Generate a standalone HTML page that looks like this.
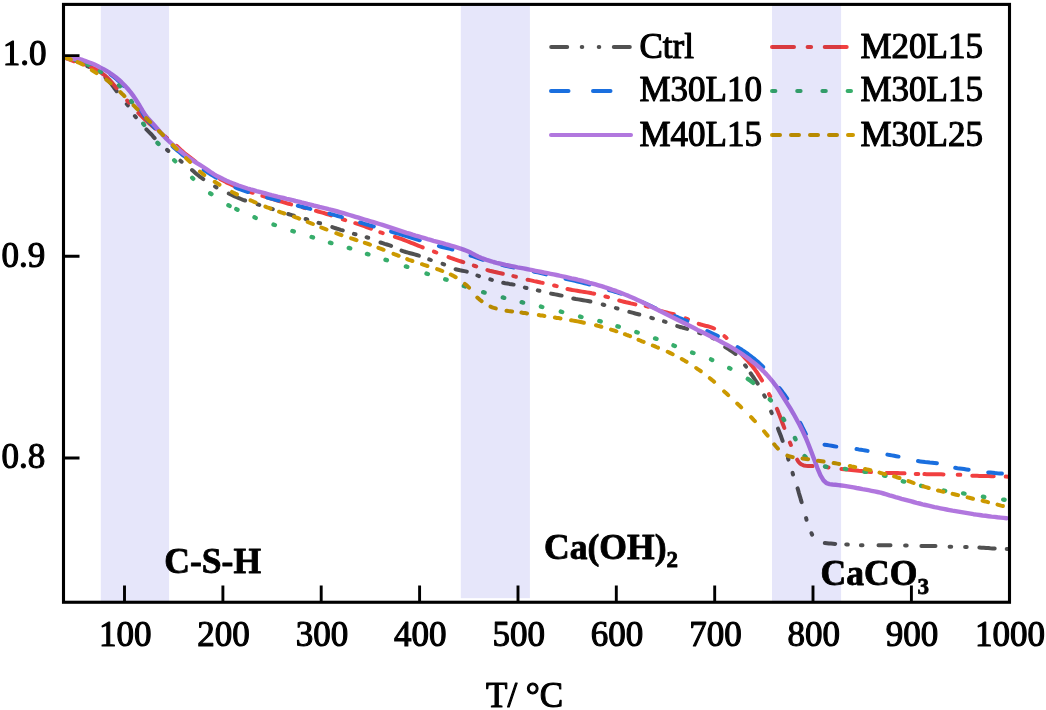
<!DOCTYPE html>
<html><head><meta charset="utf-8">
<style>
html,body{margin:0;padding:0;background:#fff;}
body{width:1046px;height:710px;overflow:hidden;position:relative;font-family:"Liberation Serif",serif;}
svg{position:absolute;left:0;top:0;}
text{font-family:"Liberation Serif",serif;fill:#000;}
</style></head><body>
<svg width="1046" height="710" viewBox="0 0 1046 710">
<rect width="1046" height="710" fill="#fff"/>
<!-- CURVES -->
<g id="curves" fill="none" stroke-width="4.0" stroke-linecap="round" stroke-linejoin="round">
<path id="c-gray" d="M66.5 57.9L68.8 58.6L71.2 59.2L73.6 60.0L75.9 60.8L78.2 61.8M87.3 66.1L88.7 66.8M95.3 70.1L96.7 70.9M105.5 77.5L107.1 79.0L108.6 80.7L110.0 82.4L111.4 84.1L112.7 85.9L114.0 87.7L115.4 89.5L116.7 91.2M126.8 104.0L127.8 105.3M134.9 116.0L135.9 117.2M146.4 129.4L148.1 131.1L149.8 132.8L151.5 134.5L153.0 136.3L154.6 138.1M167.1 149.9L168.3 150.9M180.4 160.7L181.6 161.7M192.0 170.0L193.8 171.6L195.6 173.2L197.5 174.8L199.4 176.3L201.3 177.7L203.3 179.1M215.1 186.6L216.5 187.4M228.8 193.5L230.8 194.5L232.8 195.4L234.8 196.4L236.8 197.3L238.9 198.2L240.9 199.0L243.0 199.8L245.1 200.5M257.7 204.4L259.3 204.9M271.2 208.7L272.8 209.2M288.2 214.0L290.1 214.6L292.1 215.2L294.0 215.7M305.6 219.0L307.2 219.5M318.5 222.9L320.1 223.3M332.3 227.1L334.4 227.8L336.5 228.5L338.6 229.1L340.7 229.8L342.8 230.4M353.9 233.9L355.5 234.3M366.6 237.3L368.2 237.7M380.5 242.5L382.6 243.2L384.7 243.9L386.9 244.5L389.0 245.2L391.1 245.9M401.5 250.6L403.7 251.3L405.8 252.0L408.0 252.6L410.2 253.2L412.4 253.8L414.6 254.4L416.7 255.0L418.9 255.6M429.2 259.4L430.8 260.0M442.6 263.8L444.1 264.4M455.6 269.3L457.8 269.8L460.1 270.3L462.3 270.7L464.5 271.1L466.8 271.6M477.4 275.5L479.0 276.1M490.3 279.4L491.9 279.9M503.2 282.8L505.2 283.2L507.3 283.5L509.4 283.9L511.5 284.2L513.6 284.6M524.9 287.6L526.5 288.0M537.8 290.4L539.4 290.8M551.1 293.6L553.2 294.0L555.3 294.4L557.4 294.8L559.5 295.2L561.6 295.6M573.3 298.5L575.7 299.0L578.2 299.4L580.6 299.8L583.1 300.2L585.5 300.6L588.0 301.0L590.4 301.5M602.7 304.5L604.3 305.0M615.9 308.1L617.5 308.5M629.3 311.9L631.3 312.4L633.3 312.9L635.3 313.5L637.3 314.0L639.3 314.5M651.3 317.8L652.9 318.3M664.0 321.4L665.6 321.9M677.2 326.1L679.2 326.7L681.2 327.2L683.2 327.8L685.2 328.3L687.2 328.9M699.2 332.9L700.8 333.4M712.3 337.7L713.7 338.4M725.2 347.0L727.3 348.3L729.4 349.7L731.5 351.0L733.5 352.4L735.5 354.0M745.1 365.3L746.1 366.6M750.7 373.3L752.1 375.4L753.5 377.4L754.9 379.5L756.3 381.6L757.7 383.7M764.2 395.3L764.9 396.7M771.1 411.6L771.7 413.1M778.0 428.6L778.8 430.7L779.6 432.7L780.4 434.7L781.2 436.8L781.9 438.8L782.6 440.9M788.0 458.0L788.4 459.6M792.6 472.9L793.0 474.5M797.6 488.4L798.3 490.7L798.9 493.0L799.6 495.3L800.3 497.6L800.9 499.9L801.6 502.2M806.1 518.1L806.5 519.7M811.5 533.2L812.1 534.6M824.8 543.1L826.9 543.3L829.0 543.5L831.0 543.6L833.1 543.7L835.2 543.9M846.2 544.5L847.8 544.6M860.9 545.2L862.5 545.2M878.5 545.2L880.9 545.2L883.3 545.2L885.7 545.2L888.1 545.2L890.5 545.2M905.1 545.6L906.7 545.6M921.4 545.9L923.8 545.9L926.1 545.9L928.5 545.9L930.8 545.9L933.2 545.9L935.5 545.9M949.6 546.8L951.2 546.8M965.1 547.0L966.7 547.0M979.4 547.5L981.6 547.7L983.8 547.8L986.0 548.0L988.1 548.1L990.3 548.3L992.5 548.4L994.7 548.5M1006.7 549.0L1008.0 549.0" stroke="#515151"/>
<path id="c-red" d="M66.4 58.3L68.3 59.0L70.2 59.8L72.2 60.5L74.1 61.3M81.8 63.7L83.0 64.1L84.2 64.5M90.8 67.0L93.0 68.0L95.2 69.1L97.3 70.3L99.3 71.6L101.3 72.9L103.3 74.3L105.2 75.8L107.0 77.4L108.7 79.1L110.3 80.9L111.9 82.7L113.5 84.5L115.1 86.3L116.7 88.1M127.2 100.6L128.1 101.6L129.0 102.6M138.4 112.9L140.0 114.6L141.6 116.2L143.3 117.9L145.0 119.5L146.7 121.0L148.4 122.6L150.2 124.1L151.9 125.7L153.7 127.2L155.5 128.6M165.0 136.4L166.0 137.2L167.0 138.0M176.5 145.8L178.3 147.5L180.1 149.2L181.9 150.9L183.8 152.5L185.7 154.0L187.7 155.5L189.6 157.0L191.6 158.6L193.5 160.1L195.4 161.6M207.0 170.5L208.0 171.3L209.1 172.0M220.0 178.9L222.0 180.0L224.0 181.0L226.0 182.1L228.0 183.1L230.0 184.0L232.0 185.0L234.0 185.9L236.1 186.8L238.1 187.7M250.3 192.0L251.5 192.4L252.7 192.8M262.4 195.9L264.8 196.6L267.2 197.4L269.5 198.1L271.9 198.9L274.3 199.6L276.7 200.3L279.1 201.0L281.5 201.7L283.9 202.4L286.3 203.1L288.7 203.8L291.1 204.4M302.7 207.4L304.0 207.8L305.3 208.1M316.0 210.9L318.2 211.5L320.4 212.1L322.5 212.7L324.7 213.3L326.8 214.0L329.0 214.7L331.1 215.4M342.8 219.4L344.0 219.7L345.2 220.1M355.3 223.2L357.6 223.9L359.9 224.6L362.1 225.4L364.4 226.2L366.6 227.0L368.8 227.8L371.0 228.7M380.3 232.3L381.5 232.7L382.7 233.1M394.9 236.8L397.3 237.6L399.6 238.4L402.0 239.2L404.3 240.1L406.6 241.0L408.9 241.9L411.2 242.8L413.5 243.7L415.8 244.7L418.1 245.6L420.4 246.5L422.7 247.4M433.9 251.6L435.1 252.0L436.3 252.5M448.5 257.1L450.6 257.9L452.7 258.6L454.8 259.4L456.9 260.1L459.1 260.8L461.2 261.5L463.3 262.2M473.8 265.6L475.0 266.0L476.2 266.4M487.4 270.1L489.6 270.7L491.8 271.2L494.0 271.8L496.2 272.3L498.4 272.8L500.6 273.2L502.8 273.7M513.3 276.1L514.6 276.4L515.9 276.7M527.6 279.7L529.8 280.1L532.0 280.6L534.1 281.1L536.3 281.5L538.4 282.0L540.6 282.5L542.7 282.9M554.1 285.5L555.4 285.8L556.7 286.1M567.5 289.0L569.9 289.5L572.3 290.0L574.7 290.4L577.2 290.8L579.6 291.2L582.1 291.6L584.5 292.0L587.0 292.4L589.4 292.8L591.8 293.3L594.2 293.7M605.4 296.5L606.7 296.8L608.0 297.2M619.2 300.5L621.5 301.1L623.8 301.7L626.1 302.3L628.5 302.8L630.8 303.4L633.1 303.9L635.4 304.4M645.7 306.1L647.0 306.4L648.3 306.7M659.4 310.6L661.8 311.3L664.2 311.9L666.6 312.5L669.0 313.1L671.4 313.7L673.8 314.3M685.6 318.4L686.8 318.8L688.0 319.3M698.7 323.8L700.9 324.5L703.1 325.1L705.3 325.7L707.6 326.2L709.8 326.9L712.0 327.6L714.1 328.5M724.5 336.2L725.5 337.1L726.5 338.0M736.4 348.5L738.0 350.3L739.6 352.0L741.3 353.8L742.9 355.6L744.5 357.4L746.1 359.2L747.8 361.0L749.4 362.8L751.0 364.6L752.6 366.5L754.1 368.4L755.5 370.4L756.9 372.3L758.2 374.4L759.5 376.4L760.8 378.5L762.0 380.6M769.0 394.1L769.6 395.3L770.2 396.4M776.9 408.9L777.8 410.9L778.6 413.0L779.5 415.1L780.3 417.3L781.1 419.4L781.9 421.5L782.7 423.7L783.5 425.8L784.3 427.9M789.9 442.6L790.4 443.8L790.9 445.0M797.2 459.7L798.3 461.6L799.8 463.3L801.6 464.5L803.7 465.4L805.9 465.7L808.1 465.9L810.4 466.0L812.6 466.1M825.9 467.1L827.2 467.2L828.5 467.4M841.5 469.0L843.9 469.2L846.4 469.5L848.9 469.7L851.3 469.9L853.8 470.2L856.3 470.4L858.7 470.7L861.2 470.9L863.6 471.2L866.1 471.5L868.5 471.8L871.0 472.0M886.5 472.9L888.7 473.0L891.0 473.0L893.2 473.1L895.5 473.1L897.8 473.1L900.0 473.2L902.3 473.2L904.5 473.3M915.7 474.0L917.0 474.0L918.3 474.0M924.4 474.1L926.8 474.2L929.2 474.2L931.6 474.2L934.0 474.3L936.3 474.3L938.7 474.3L941.1 474.3L943.5 474.4M957.7 474.7L959.0 474.7L960.3 474.8M972.3 475.7L974.7 475.8L977.1 475.8L979.4 475.9L981.8 476.0L984.2 476.0L986.6 476.1L988.9 476.1L991.3 476.2L993.7 476.2M1005.7 476.6L1008.0 476.7" stroke="#F14040"/>
<path id="c-blue" d="M66.5 57.6L66.5 57.6M79.9 59.9L82.0 60.5L84.1 61.1L86.1 61.8L88.1 62.5L90.2 63.3L92.2 64.1M110.6 74.5L112.6 76.0L114.6 77.5L116.5 79.0L118.3 80.7L120.2 82.3L121.9 84.0L123.7 85.8M141.0 110.2L142.3 112.3L143.5 114.5L144.9 116.5L146.4 118.5L147.9 120.5L149.6 122.3L151.3 124.1L153.0 125.9L154.7 127.8M172.5 146.3L174.3 147.9L176.1 149.4L177.9 151.0L179.8 152.5L181.6 154.1L183.5 155.6L185.4 157.0M203.7 169.8L205.5 171.0L207.3 172.2L209.1 173.3L211.0 174.5L212.8 175.6L214.7 176.7L216.6 177.8M235.4 187.4L237.5 188.3L239.6 189.1L241.7 189.8L243.8 190.6L245.9 191.3L248.0 192.0M267.1 197.5L269.4 198.1L271.7 198.7L274.1 199.4L276.4 200.0L278.7 200.6M297.8 205.7L299.9 206.2L302.0 206.7L304.0 207.3L306.1 207.8L308.2 208.3L310.3 208.9M329.4 213.7L331.5 214.3L333.6 214.8L335.7 215.4L337.7 216.0L339.8 216.5L341.9 217.1M360.1 222.5L362.4 223.2L364.7 223.9L366.9 224.5L369.2 225.2L371.5 225.8L373.8 226.5M391.1 231.5L393.5 232.3L395.9 233.0L398.3 233.7L400.7 234.4L403.1 235.2L405.5 235.9L407.9 236.6L410.2 237.4L412.6 238.1L415.0 238.8L417.4 239.6L419.8 240.3M438.9 246.1L441.2 246.7L443.4 247.3L445.7 247.8L447.9 248.4L450.1 248.9L452.4 249.5M470.6 255.5L472.7 256.2L474.8 256.9L476.8 257.7L478.9 258.4L481.0 259.1L483.1 259.8M501.9 264.9L504.4 265.5L506.8 266.1L509.2 266.6L511.6 267.1L514.0 267.5M533.7 271.5L535.7 272.0L537.8 272.4L539.9 272.9L541.9 273.4L544.0 273.9L546.1 274.4M565.5 278.7L567.9 279.3L570.3 279.8L572.7 280.3L575.1 280.9L577.5 281.5L579.9 282.0L582.3 282.6L584.7 283.3L587.1 283.9L589.5 284.5M608.9 290.0L611.0 290.6L613.0 291.2L615.0 291.8L617.1 292.4L619.1 293.0L621.1 293.7M642.8 302.3L645.0 303.3L647.1 304.3L649.2 305.3L651.4 306.4L653.5 307.4L655.7 308.3M674.9 316.1L676.9 316.9L679.0 317.8L681.1 318.6L683.2 319.5L685.2 320.3L687.3 321.2M707.2 331.0L709.3 332.0L711.5 333.0L713.6 334.0L715.8 335.1L717.9 336.1M737.6 347.1L739.7 348.5L741.8 349.8L743.9 351.2L746.0 352.6L748.0 354.0L750.0 355.5L752.0 357.1L754.0 358.6L755.9 360.2L757.8 361.8L759.6 363.5L761.4 365.2L763.2 367.0M779.4 388.1L780.8 389.8L782.1 391.5L783.4 393.3L784.7 395.0L786.0 396.8L787.2 398.6M800.2 422.9L801.2 424.8L802.1 426.6L803.0 428.5L804.0 430.4L804.9 432.3L805.9 434.1M824.5 444.7L826.9 445.0L829.2 445.4L831.6 445.8L834.0 446.2L836.3 446.6M856.5 449.0L858.7 449.4L860.9 449.7L863.2 450.1L865.4 450.5L867.6 450.9M887.4 454.6L889.6 455.0L891.8 455.4L894.1 455.8L896.3 456.2L898.5 456.6M918.0 461.1L920.3 461.4L922.7 461.7L925.1 462.0L927.5 462.2L929.8 462.5L932.2 462.7L934.6 463.0L936.9 463.3M955.2 467.8L957.4 468.2L959.6 468.5L961.9 468.8L964.1 469.1L966.4 469.4L968.6 469.7M988.2 472.4L990.5 472.6L992.8 472.8L995.0 473.1L997.3 473.3L999.6 473.4L1001.9 473.6" stroke="#1A6FDF"/>
<path id="c-green" d="M75.3 59.8L76.7 60.2M87.4 64.2L88.6 64.8M99.8 71.2L101.0 72.0M119.0 85.3L120.0 86.3M131.2 101.0L132.0 102.2M143.3 123.7L144.1 124.9M157.5 142.9L158.5 143.9M174.2 160.3L175.2 161.3M192.2 177.8L193.2 178.8M210.2 193.3L211.4 194.1M228.4 205.3L229.6 205.9M236.3 209.1L237.5 209.7M254.5 217.3L255.7 217.9M273.5 224.6L274.9 225.0M292.4 231.0L293.8 231.4M311.6 237.0L313.0 237.4M330.0 242.7L331.4 243.1M348.8 247.9L350.2 248.3M367.0 253.9L368.4 254.3M385.5 259.8L386.9 260.2M405.9 266.4L407.3 266.8M426.5 273.6L427.9 274.0M445.2 279.3L446.6 279.7M463.8 286.0L465.2 286.4M483.2 292.2L484.6 292.6M502.8 297.4L504.2 297.8M521.7 302.2L523.1 302.6M540.9 306.6L542.3 307.0M560.8 311.6L562.2 312.0M580.1 316.6L581.5 317.0M599.3 321.0L600.7 321.4M617.4 326.3L618.8 326.7M636.3 332.1L637.7 332.5M655.1 338.4L656.5 338.8M673.5 345.4L674.9 346.0M692.1 352.6L693.5 353.0M711.0 359.4L712.2 360.0M729.2 368.0L730.4 368.6M747.8 378.9L749.6 380.1L751.4 381.5L753.1 382.8M769.8 399.4L770.8 400.4M783.3 418.8L784.1 420.0M794.9 438.0L795.5 439.2M804.6 456.1L805.6 457.1M825.0 466.5L826.4 466.7M844.8 468.9L846.2 469.1M864.5 471.7L865.9 471.9M884.1 475.5L885.5 475.8M902.8 481.3L904.2 481.6M921.1 485.8L922.5 486.1M943.8 490.6L945.2 490.9M963.1 493.4L964.5 493.6M982.9 496.8L984.3 497.0M1003.2 499.6L1004.6 499.8" stroke="#37AD6B" stroke-width="4.4"/>
<path id="c-purple" d="M64.5 57.5L67.5 58.4L70.5 58.6L73.5 58.7L76.5 58.8L79.5 59.2L82.5 60.0L85.5 61.1L88.5 62.2L91.5 63.3L94.5 64.6L97.5 66.0L100.5 67.6L103.5 69.1L106.5 70.9L109.5 72.7L112.5 74.8L115.5 77.0L118.5 79.5L121.5 82.2L124.5 85.2L127.5 88.5L130.5 92.1L133.5 96.1L136.5 100.7L139.5 105.5L142.5 110.7L145.5 115.4L148.5 119.1L151.5 122.3L154.5 125.6L157.5 129.0L160.5 132.5L163.5 135.8L166.5 138.9L169.5 141.7L172.5 144.4L175.5 147.0L178.5 149.5L181.5 152.0L184.5 154.4L187.5 156.7L190.5 158.9L193.5 160.9L196.5 162.8L199.5 164.6L202.5 166.5L205.5 168.5L208.5 170.6L211.5 172.7L214.5 174.6L217.5 176.3L220.5 177.8L223.5 179.3L226.5 180.7L229.5 182.0L232.5 183.2L235.5 184.4L238.5 185.5L241.5 186.5L244.5 187.5L247.5 188.5L250.5 189.4L253.5 190.2L256.5 191.1L259.5 191.9L262.5 192.7L265.5 193.5L268.5 194.3L271.5 195.1L274.5 195.8L277.5 196.6L280.5 197.3L283.5 198.0L286.5 198.8L289.5 199.5L292.5 200.2L295.5 201.0L298.5 201.7L301.5 202.5L304.5 203.2L307.5 204.0L310.5 204.7L313.5 205.5L316.5 206.2L319.5 207.0L322.5 207.7L325.5 208.4L328.5 209.2L331.5 209.9L334.5 210.7L337.5 211.5L340.5 212.3L343.5 213.2L346.5 214.1L349.5 215.0L352.5 215.9L355.5 216.8L358.5 217.7L361.5 218.6L364.5 219.5L367.5 220.4L370.5 221.3L373.5 222.2L376.5 223.1L379.5 224.0L382.5 224.9L385.5 225.8L388.5 226.8L391.5 227.8L394.5 228.8L397.5 229.8L400.5 230.8L403.5 231.8L406.5 232.8L409.5 233.7L412.5 234.7L415.5 235.6L418.5 236.4L421.5 237.3L424.5 238.2L427.5 239.1L430.5 239.9L433.5 240.8L436.5 241.6L439.5 242.4L442.5 243.2L445.5 244.1L448.5 244.9L451.5 245.8L454.5 246.7L457.5 247.6L460.5 248.6L463.5 249.6L466.5 250.7L469.5 252.0L472.5 253.6L475.5 255.2L478.5 256.7L481.5 258.0L484.5 259.1L487.5 260.2L490.5 261.1L493.5 262.0L496.5 262.8L499.5 263.5L502.5 264.2L505.5 264.9L508.5 265.5L511.5 266.1L514.5 266.7L517.5 267.3L520.5 267.8L523.5 268.4L526.5 269.0L529.5 269.6L532.5 270.2L535.5 270.8L538.5 271.4L541.5 272.0L544.5 272.6L547.5 273.2L550.5 273.8L553.5 274.4L556.5 275.0L559.5 275.7L562.5 276.3L565.5 276.9L568.5 277.6L571.5 278.3L574.5 278.9L577.5 279.7L580.5 280.4L583.5 281.2L586.5 281.9L589.5 282.8L592.5 283.6L595.5 284.4L598.5 285.3L601.5 286.2L604.5 287.2L607.5 288.1L610.5 289.1L613.5 290.2L616.5 291.2L619.5 292.3L622.5 293.5L625.5 294.7L628.5 295.9L631.5 297.2L634.5 298.5L637.5 299.9L640.5 301.3L643.5 302.8L646.5 304.2L649.5 305.7L652.5 307.3L655.5 308.8L658.5 310.3L661.5 311.8L664.5 313.3L667.5 314.8L670.5 316.3L673.5 317.8L676.5 319.3L679.5 320.8L682.5 322.3L685.5 323.8L688.5 325.3L691.5 326.8L694.5 328.3L697.5 329.9L700.5 331.3L703.5 332.8L706.5 334.3L709.5 335.8L712.5 337.3L715.5 338.8L718.5 340.4L721.5 342.0L724.5 343.6L727.5 345.2L730.5 346.9L733.5 348.7L736.5 350.5L739.5 352.4L742.5 354.4L745.5 356.5L748.5 358.6L751.5 360.9L754.5 363.3L757.5 365.8L760.5 368.4L763.5 371.3L766.5 374.4L769.5 377.8L772.5 381.4L775.5 385.3L778.5 389.6L781.5 394.2L784.5 399.0L787.5 403.8L790.5 408.7L793.5 413.8L796.5 419.2L799.5 424.8L802.5 430.8L805.5 437.2L808.5 444.5L811.5 452.3L814.5 460.2L817.5 468.3L820.5 475.4L823.5 480.3L826.5 483.2L829.5 484.1L832.5 484.5L835.5 484.8L838.5 485.1L841.5 485.5L844.5 485.9L847.5 486.4L850.5 486.9L853.5 487.4L856.5 488.0L859.5 488.5L862.5 489.1L865.5 489.6L868.5 490.2L871.5 490.8L874.5 491.4L877.5 492.0L880.5 492.7L883.5 493.5L886.5 494.3L889.5 495.3L892.5 496.2L895.5 497.1L898.5 497.9L901.5 498.8L904.5 499.6L907.5 500.4L910.5 501.2L913.5 502.0L916.5 502.8L919.5 503.5L922.5 504.3L925.5 505.0L928.5 505.7L931.5 506.4L934.5 507.1L937.5 507.7L940.5 508.3L943.5 508.9L946.5 509.5L949.5 510.1L952.5 510.7L955.5 511.2L958.5 511.7L961.5 512.2L964.5 512.7L967.5 513.2L970.5 513.7L973.5 514.2L976.5 514.6L979.5 515.0L982.5 515.5L985.5 515.8L988.5 516.2L991.5 516.6L994.5 516.9L997.5 517.3L1000.5 517.6L1003.5 517.9L1006.5 518.2" stroke="#B177DE" stroke-width="4.4"/>
<path id="c-mustard" d="M65.4 57.8L67.2 58.3L69.0 58.9L70.8 59.5M77.6 62.1L79.4 62.8L81.0 63.6L82.7 64.5M91.8 70.1L93.3 71.1L94.9 72.1L96.5 73.1M106.3 79.7L107.8 80.8L109.2 82.0L110.7 83.2M120.4 92.2L121.7 93.5L123.1 94.7L124.4 96.1M133.6 105.4L134.9 106.7L136.3 108.1L137.6 109.4M146.2 118.2L147.5 119.5L148.9 120.9L150.2 122.2M159.0 131.0L160.3 132.3L161.7 133.7L163.0 135.0M172.8 145.2L174.1 146.5L175.5 147.9L176.8 149.2M186.0 158.1L187.3 159.4L188.7 160.6L190.0 162.0M199.9 171.5L201.4 172.7L202.8 173.9L204.3 175.0M214.7 181.8L216.3 182.8L217.9 183.8L219.5 184.8M232.0 191.9L233.7 192.8L235.3 193.6L237.0 194.4M250.5 200.3L252.2 201.0L254.0 201.8L255.7 202.5M265.4 206.6L267.1 207.3L268.9 207.9L270.6 208.6M279.1 211.7L280.8 212.3L282.6 212.9L284.3 213.5M294.0 216.7L295.7 217.3L297.5 217.9L299.2 218.6M307.7 222.0L309.4 222.7L311.2 223.3L312.9 224.0M321.3 227.5L323.0 228.2L324.8 228.8L326.5 229.5M336.3 233.2L338.0 233.9L339.8 234.5L341.5 235.1M351.1 238.3L352.9 238.9L354.7 239.5L356.5 240.1M364.8 242.8L366.5 243.4L368.3 244.0L370.0 244.6M378.4 247.8L380.1 248.5L381.9 249.1L383.6 249.8M393.5 253.8L395.2 254.5L397.0 255.1L398.7 255.8M407.2 259.1L408.9 259.8L410.7 260.4L412.4 261.0M422.0 264.2L423.8 264.8L425.6 265.4L427.4 266.0M437.1 269.1L438.8 269.7L440.6 270.3L442.3 271.0M450.8 274.5L452.5 275.4L454.1 276.2L455.7 277.2M464.9 283.9L466.3 285.1L467.7 286.3L469.0 287.7M477.3 297.5L478.7 298.8L480.1 300.0L481.6 301.1M490.5 306.6L492.2 307.3L494.0 307.9L495.8 308.4M506.5 310.7L508.4 311.0L510.2 311.2L512.1 311.5M521.4 312.6L523.3 312.9L525.1 313.1L527.0 313.4M538.8 315.1L540.7 315.4L542.5 315.6L544.4 315.9M554.9 317.6L556.8 317.9L558.6 318.1L560.5 318.4M571.1 320.2L573.2 320.6L575.4 321.0L577.5 321.4L579.6 321.8L581.8 322.2L583.9 322.7M596.0 325.3L597.8 325.8L599.6 326.2L601.4 326.7M611.0 329.6L612.8 330.1L614.6 330.7L616.4 331.3M624.9 334.2L626.6 334.9L628.4 335.5L630.1 336.2M638.5 339.8L640.2 340.5L642.0 341.3L643.7 341.9M652.8 345.5L654.5 346.2L656.3 347.0L658.0 347.7M667.7 351.8L669.4 352.6L671.0 353.4L672.7 354.2M681.8 359.0L683.4 359.9L685.0 360.9L686.6 361.8M696.2 368.0L697.7 369.1L699.3 370.1L700.8 371.2M709.8 378.2L711.3 379.4L712.7 380.6L714.1 381.8M724.1 391.3L725.4 392.6L726.8 393.8L728.2 395.1M737.2 403.5L738.5 404.7L739.9 406.0L741.2 407.3M751.1 417.2L752.4 418.5L753.6 419.9L754.9 421.2M764.1 431.3L765.3 432.7L766.5 434.2L767.6 435.6M774.2 444.3L775.4 445.8L776.6 447.2L777.9 448.6M787.3 455.6L789.1 456.3L790.9 456.7L792.7 457.1M802.5 458.4L804.4 458.7L806.2 459.0L808.1 459.3M818.0 460.8L819.9 461.0L821.7 461.3L823.6 461.6M833.6 463.0L835.5 463.3L837.3 463.6L839.2 463.9M849.8 466.0L851.6 466.4L853.4 466.7L855.2 467.1M865.0 469.0L866.8 469.4L868.6 469.8L870.4 470.2M879.5 472.6L881.3 473.1L883.1 473.6L884.9 474.0M894.1 476.4L895.9 476.9L897.7 477.5L899.5 478.0M908.4 481.1L910.1 481.7L911.9 482.3L913.6 483.0M923.3 486.3L925.1 486.9L926.9 487.4L928.7 488.0M938.0 490.5L939.8 490.9L941.6 491.4L943.4 491.8M952.6 493.9L954.4 494.3L956.2 494.7L958.0 495.1M967.6 497.4L969.4 497.8L971.2 498.2L973.0 498.7M982.6 500.8L984.4 501.2L986.2 501.6L988.0 502.1M997.5 504.6L999.3 505.1L1001.1 505.6L1002.9 506.0" stroke="#CC9900"/>
</g>
<!-- legend lines -->
<g fill="none" stroke-width="4" stroke-linecap="round">
<path d="M551.2 47H631" stroke="#515151" stroke-dasharray="16 14.5 0.6 16.4 0.6 14.5 16 99"/>
<path d="M551 91H631" stroke="#1A6FDF" stroke-dasharray="17.5 24.5"/>
<path d="M551 135H631" stroke="#B177DE"/>
<path d="M772 47H847.2" stroke="#F14040" stroke-dasharray="22 13.6 3.5 13.6 22 99"/>
<path d="M772 91H852" stroke="#37AD6B" stroke-dasharray="3.4 21.8"/>
<path d="M772 135H853" stroke="#CC9900" stroke-dasharray="8 11"/>
</g>
<!-- bands -->
<g fill="#e6e6fa" style="mix-blend-mode:multiply">
<rect x="100.8" y="5" width="68.3" height="597"/>
<rect x="460.8" y="5" width="69.1" height="593.2"/>
<rect x="772" y="5" width="69.1" height="597"/>
</g>
<!-- frame -->
<rect x="63.5" y="4.4" width="946" height="597.85" fill="none" stroke="#000" stroke-width="3.1"/>
<!-- ticks -->
<g stroke="#000" stroke-width="2.9">
<path d="M64 55.6h15.5M64 256.2h15.5M64 458h15.5"/>
<path d="M124.5 601v-15.5M222.9 601v-15.5M321.2 601v-15.5M419.6 601v-15.5M518.0 601v-15.5M616.3 601v-15.5M714.7 601v-15.5M813.0 601v-15.5M911.4 601v-15.5"/>
</g>
<g font-size="35" stroke="#000" stroke-width="1.1" stroke-linejoin="round">
<text x="2.8" y="65.2">1.0</text>
<text x="1.5" y="266.8">0.9</text>
<text x="1.5" y="468">0.8</text>
<g text-anchor="middle">
<text x="125.2" y="646.2">100</text><text x="223.6" y="646.2">200</text><text x="321.9" y="646.2">300</text><text x="420.3" y="646.2">400</text><text x="518.7" y="646.2">500</text><text x="617.0" y="646.2">600</text><text x="715.4" y="646.2">700</text><text x="813.7" y="646.2">800</text><text x="912.1" y="646.2">900</text>
<text x="1010" y="646.2">1000</text>
</g>
<text x="486" y="707">T/ °C</text>
<!-- legend text -->
<text x="639.5" y="57.9">Ctrl</text>
<text x="639.5" y="101.2">M30L10</text>
<text x="639.5" y="145.7">M40L15</text>
<text x="860.5" y="57.9">M20L15</text>
<text x="860.5" y="101.2">M30L15</text>
<text x="860.5" y="145.7">M30L25</text>
</g>
<g font-size="35.6" font-weight="bold" stroke="#000" stroke-width="0.8" stroke-linejoin="round">
<text x="164.3" y="572.8">C-S-H</text>
<text x="544" y="558.6">Ca(OH)<tspan font-size="23" dy="8.6">2</tspan></text>
<text x="820.6" y="585.2">CaCO<tspan font-size="23" dy="8.6">3</tspan></text>
</g>
</svg>
</body></html>
